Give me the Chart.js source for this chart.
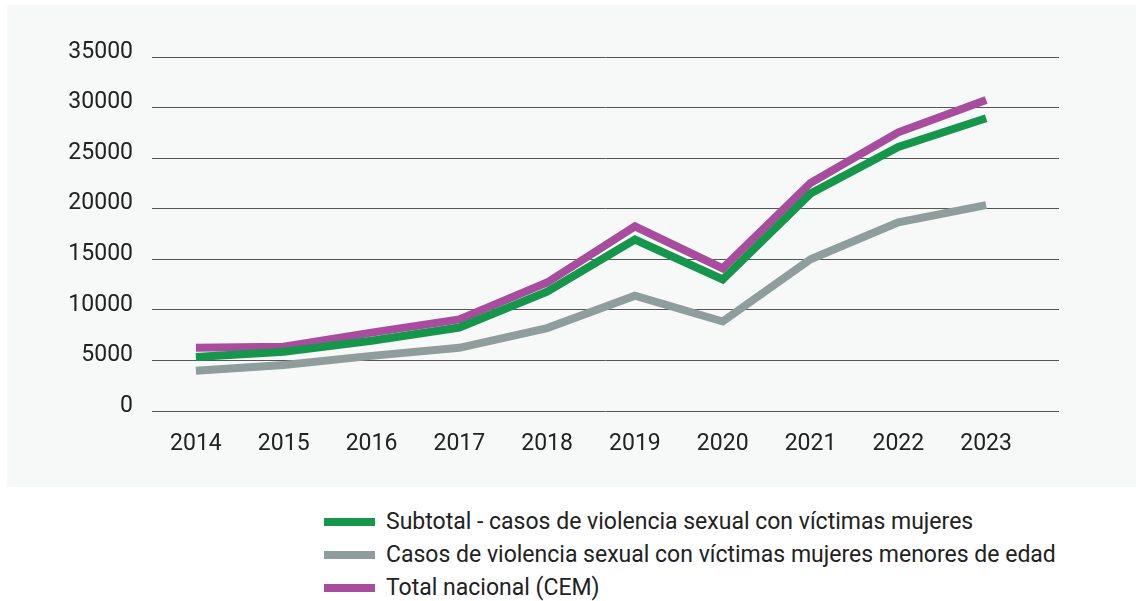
<!DOCTYPE html>
<html>
<head>
<meta charset="utf-8">
<script src="https://cdn.jsdelivr.net/npm/chart.js@4"></script>
<style>
  body { margin: 0; background: #fff; width: 1136px; height: 601px; overflow: hidden; font-family: Roboto, sans-serif; }
  #box { position: absolute; left: 7px; top: 5px; width: 1129px; height: 482px; background: #f7f9f9; }
  #legend { position: absolute; left: 324px; top: 505px; }
  .row { display: flex; align-items: center; height: 33px; font-size: 23px; color: #222; }
  .sw { width: 51px; height: 8px; margin-right: 11px; }
</style>
</head>
<body>
<div id="box"><canvas id="lineChart" width="1129" height="482"></canvas></div>
<div id="legend"></div>
<script>
const years = [2014, 2015, 2016, 2017, 2018, 2019, 2020, 2021, 2022, 2023];
const subtotal = [5350, 5850, 6950, 8250, 11800, 16950, 13000, 21500, 26100, 28950];
const menores = [3970, 4550, 5450, 6250, 8200, 11400, 8850, 15000, 18650, 20350];
const totalCem = [6250, 6350, 7750, 9050, 12700, 18250, 14100, 22550, 27550, 30750];
const yTicks = [0, 5000, 10000, 15000, 20000, 25000, 30000, 35000];

const seriesNames = [
    'Subtotal - casos de violencia sexual con víctimas mujeres',
    'Casos de violencia sexual con víctimas mujeres menores de edad',
    'Total nacional (CEM)'
];
const seriesColors = ['#15964a', '#8f9d9c', '#a84d9e'];
const seriesValues = [subtotal, menores, totalCem];

function points(values) {
    return values.map((v, i) => ({ x: years[i], y: v }));
}

const datasets = seriesValues.map((vals, i) => ({
    label: seriesNames[i],
    data: points(vals),
    borderColor: seriesColors[i],
    backgroundColor: seriesColors[i],
    borderWidth: 8,
    pointRadius: 0,
    tension: 0,
    borderCapStyle: 'butt',
}));

new Chart(document.getElementById('lineChart'), {
    type: 'line',
    data: { datasets: datasets },
    options: {
        responsive: false,
        animation: false,
        layout: { padding: { top: 52, right: 77, left: 0, bottom: 0 } },
        plugins: { legend: { display: false }, tooltip: { enabled: false } },
        scales: {
            x: {
                type: 'linear',
                min: 2013.5,
                max: 2023.83,
                grid: { display: false },
                border: { display: false },
                afterBuildTicks: (scale) => { scale.ticks = years.map(v => ({ value: v })); },
                afterFit: (scale) => { scale.height = 76; },
                ticks: {
                    padding: 11,
                    color: '#222',
                    font: { family: 'Roboto', size: 23 },
                    callback: (v) => String(v),
                    maxRotation: 0,
                    autoSkip: false,
                }
            },
            y: {
                min: 0,
                max: 35000,
                afterBuildTicks: (scale) => { scale.ticks = yTicks.map(v => ({ value: v })); },
                afterFit: (scale) => { scale.width = 145; },
                grid: { color: '#555', lineWidth: 1, drawTicks: false },
                border: { display: false },
                ticks: {
                    padding: 19,
                    labelOffset: -5,
                    color: '#222',
                    font: { family: 'Roboto', size: 23 },
                    callback: (v) => String(v),
                }
            }
        }
    }
});

// legend
const legend = document.getElementById('legend');
seriesNames.forEach((name, i) => {
    const row = document.createElement('div');
    row.className = 'row';
    row.innerHTML = `<span class="sw" style="background:${seriesColors[i]}"></span><span>${name}</span>`;
    legend.appendChild(row);
});
</script>
</body>
</html>
